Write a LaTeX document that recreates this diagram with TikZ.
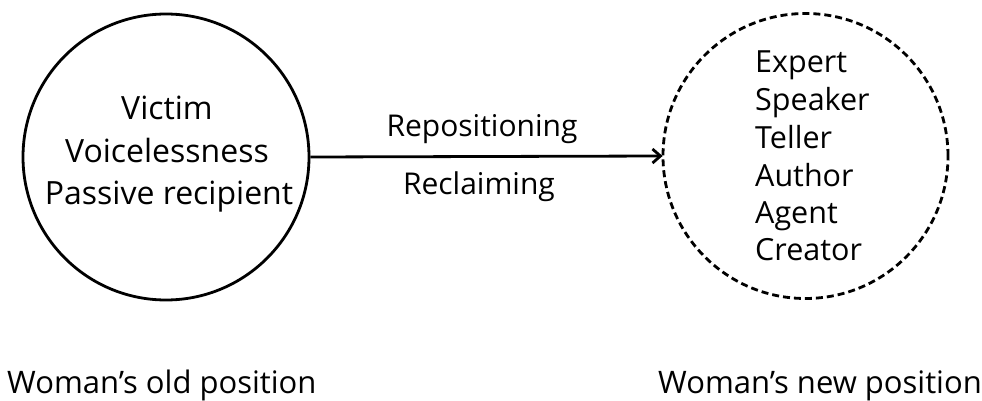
\documentclass[tikz,border=0pt]{standalone}
\usepackage{fontspec}
\setmainfont{Open Sans}
\usetikzlibrary{arrows.meta}
\tikzset{
  ring/.style={circle, draw=black, line width=2.8pt, minimum size=#1, inner sep=0pt},
  dashring/.style={ring=#1, dash pattern=on 7pt off 4pt},
  oldword/.style={inner sep=0pt, font=\fontsize{32}{32}\selectfont},
  newword/.style={inner sep=0pt, font=\fontsize{30.5}{30.5}\selectfont},
  tag/.style={inner sep=0pt, font=\fontsize{30}{30}\selectfont},
  caption/.style={inner sep=0pt, font=\fontsize{31}{31}\selectfont},
  link/.style={line width=2.8pt, -{Straight Barb[length=8pt, width=14pt, line width=2.8pt]}, shorten >=-1pt},
}
\begin{document}
\begin{tikzpicture}[x=1pt, y=-1pt]
  \useasboundingbox (0,0) rectangle (982,401);

  % the two positions
  \node[ring=286pt] (old) at (166,157) {};
  \node[dashring=285pt] (new) at (805.5,156) {};

  % qualities of the old position
  \node[oldword, anchor=base] (v1) at (167,120) {Victim};
  \node[oldword, anchor=base] (v2) at (167,162) {Voicelessness};
  \node[oldword, anchor=base] (v3) at (169,204) {Passive recipient};

  % qualities of the new position
  \node[newword, anchor=base west] (n1) at (755,73) {Expert};
  \node[newword, anchor=base west] (n2) at (755,111) {Speaker};
  \node[newword, anchor=base west] (n3) at (755,148) {Teller};
  \node[newword, anchor=base west] (n4) at (755,186) {Author};
  \node[newword, anchor=base west] (n5) at (755,223) {Agent};
  \node[newword, anchor=base west] (n6) at (755,260) {Creator};

  % transition
  \draw[link] (old.east) -- (new.west);
  \node[tag, anchor=base] (l1) at (482,136) {Repositioning};
  \node[tag, anchor=base] (l2) at (479,194) {Reclaiming};

  % captions
  \node[caption, anchor=base west] (c1) at (7,393) {Woman’s old position};
  \node[caption, anchor=base west] (c2) at (658,393) {Woman’s new position};
\end{tikzpicture}
\end{document}
